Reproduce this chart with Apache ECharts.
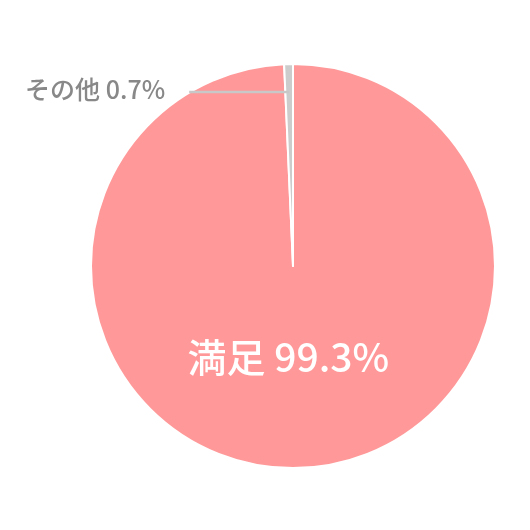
<!DOCTYPE html>
<html><head><meta charset="utf-8">
<script src="https://cdn.jsdelivr.net/npm/echarts@6/dist/echarts.min.js"></script>
<style>html,body{margin:0;padding:0;background:#fff}#c{width:530px;height:530px}</style>
</head><body><div id="c"></div>
<script>
const categories = ['満足', 'その他'];
const values = [99.3, 0.7];
const colors = ['#FF9999', '#CCCCCC'];

const fmt = p => p.name + ' ' + p.value + '%';
const chart = echarts.init(document.getElementById('c'));
chart.setOption({
  animation: false,
  series: [{
    type: 'pie',
    center: [293, 266],
    radius: 202,
    startAngle: 90,
    clockwise: true,
    avoidLabelOverlap: false,
    itemStyle: { borderColor: '#fff', borderWidth: 2 },
    labelLine: { show: false },
    data: categories.map((c, i) => ({
      name: c, value: values[i],
      itemStyle: { color: colors[i] },
      label: i === 0 ? {
        show: true, position: 'inside', color: '#fff', fontSize: 39, fontWeight: 500,
        fontFamily: 'Noto Sans CJK JP', offset: [-7, -13], formatter: fmt
      } : { show: false }
    }))
  }, {
    // label carrier: same data, transparent, line starts inside the pie
    type: 'pie',
    center: [293, 266],
    radius: 174,
    startAngle: 90,
    clockwise: true,
    silent: true,
    z: 3,
    avoidLabelOverlap: false,
    itemStyle: { color: 'rgba(0,0,0,0)', borderWidth: 0 },
    emphasis: { disabled: true },
    labelLine: { show: true, length: 0, length2: 100, lineStyle: { color: '#c8c8c8', width: 2.5 } },
    data: categories.map((c, i) => ({
      name: c, value: values[i],
      label: i === 1 ? {
        show: true, position: 'outside', color: '#888', fontSize: 25, fontWeight: 500,
        fontFamily: 'Noto Sans CJK JP', distanceToLabelLine: 24, offset: [0, -3], formatter: fmt
      } : { show: false },
      labelLine: { show: i === 1 }
    }))
  }]
});
</script></body></html>
